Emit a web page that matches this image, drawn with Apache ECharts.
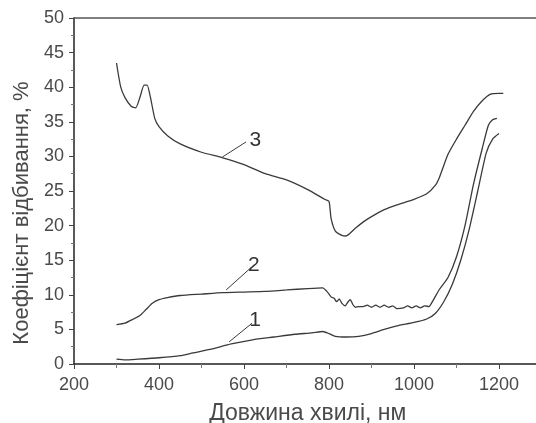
<!DOCTYPE html>
<html>
<head>
<meta charset="utf-8">
<script src="https://cdn.jsdelivr.net/npm/echarts@6/dist/echarts.min.js"></script>
<style>
  html, body { margin: 0; padding: 0; background: #fff; }
  #chart { width: 536px; height: 423px; }
</style>
</head>
<body>
<div id="chart"></div>
<script>
// curve 1
var wl1 = [300, 320, 350, 400, 450, 480, 520, 570, 620, 670, 720, 760, 785, 800, 815, 840, 870, 900, 930, 960, 1000, 1030, 1050, 1070, 1090, 1110, 1130, 1150, 1170, 1185, 1200];
var r1 = [0.7, 0.6, 0.7, 0.9, 1.2, 1.6, 2.1, 2.9, 3.5, 3.9, 4.3, 4.5, 4.7, 4.4, 4.0, 3.9, 4.0, 4.4, 5.0, 5.5, 6.0, 6.5, 7.3, 9.0, 11.5, 15, 19.5, 25, 30.5, 32.5, 33.3];
// curve 2
var wl2 = [300, 320, 340, 355, 370, 385, 400, 420, 450, 500, 550, 600, 650, 700, 750, 785, 795, 805, 812, 818, 824, 830, 838, 845, 850, 856, 862, 870, 880, 890, 900, 910, 920, 930, 940, 950, 960, 975, 985, 995, 1005, 1015, 1025, 1035, 1045, 1060, 1080, 1100, 1120, 1140, 1160, 1175, 1185, 1195];
var r2 = [5.7, 5.9, 6.5, 7.0, 7.9, 8.8, 9.3, 9.6, 9.9, 10.1, 10.3, 10.4, 10.5, 10.7, 10.9, 11.0, 10.5, 9.7, 9.5, 9.0, 9.4, 8.8, 8.4, 9.0, 9.3, 8.6, 8.2, 8.3, 8.3, 8.5, 8.2, 8.5, 8.2, 8.5, 8.2, 8.4, 8.0, 8.1, 8.4, 8.1, 8.4, 8.1, 8.4, 8.3, 9.2, 10.8, 12.5, 15.5, 20, 26, 31, 34.5, 35.3, 35.5];
// curve 3
var wl3 = [300, 310, 320, 335, 345, 355, 365, 372, 380, 390, 400, 420, 450, 500, 550, 600, 650, 700, 750, 790, 800, 805, 815, 830, 840, 860, 880, 900, 930, 960, 1000, 1030, 1050, 1060, 1080, 1100, 1120, 1140, 1160, 1180, 1200, 1210];
var r3 = [43.5, 40, 38.5, 37.2, 37.0, 38.5, 40.3, 40.3, 38.5, 35.5, 34.3, 33, 31.8, 30.6, 29.8, 28.8, 27.5, 26.6, 25.2, 23.8, 23.5, 21, 19.2, 18.6, 18.5, 19.5, 20.5, 21.3, 22.3, 23, 23.8, 24.6, 25.8, 27, 30.3, 32.5, 34.5, 36.5, 38, 39, 39.1, 39.1];

// curve numbers with leader lines: [name, x0, y0, x1, y1]
var callouts = [
    ['1', 565, 3.2, 619, 5.9],
    ['2', 558, 10.7, 616, 13.9],
    ['3', 549, 29.9, 605, 32.1]
];

var xTitle = 'Довжина хвилі, нм';
var yTitle = 'Коефіцієнт відбивання, %';

function zip(xs, ys) {
    var out = [];
    for (var i = 0; i < xs.length; i++) {
        out.push([xs[i], ys[i]]);
    }
    return out;
}

var lineColor = '#3a3a3a';
var textColor = '#4a4a4a';
var font = 'Liberation Sans, Arial, sans-serif';

function makeSeries(data, callout) {
    return {
        type: 'line',
        data: data,
        showSymbol: false,
        smooth: 0.2,
        lineStyle: { color: lineColor, width: 1.3 },
        markLine: {
            silent: true,
            symbol: 'none',
            lineStyle: { color: lineColor, width: 1, type: 'solid' },
            label: {
                show: true,
                position: 'end',
                formatter: callout[0],
                color: '#333',
                fontSize: 21,
                fontFamily: font,
                distance: 4
            },
            data: [[{ coord: [callout[1], callout[2]] }, { coord: [callout[3], callout[4]] }]]
        }
    };
}

var chart = echarts.init(document.getElementById('chart'));
chart.setOption({
    animation: false,
    grid: { left: 74, top: 18, width: 467.5, height: 346, outerBoundsMode: 'none', containLabel: false },
    xAxis: [{
        type: 'value',
        min: 200,
        max: 1300,
        interval: 200,
        name: xTitle,
        nameLocation: 'middle',
        nameGap: 38,
        nameTextStyle: { color: textColor, fontSize: 23, fontFamily: font },
        axisLine: { lineStyle: { color: '#222', width: 1.5 } },
        axisTick: { length: 5, lineStyle: { color: '#444' } },
        minorTick: { show: true, splitNumber: 2, length: 4, lineStyle: { color: '#777' } },
        axisLabel: {
            color: textColor, fontSize: 18, fontFamily: font, margin: 12, showMaxLabel: false,
            formatter: function(v) { return String(v); }
        },
        splitLine: { show: false }
    }, {
        type: 'value',
        position: 'top',
        min: 200,
        max: 1300,
        axisLine: { show: true, lineStyle: { color: '#555', width: 1.5 } },
        axisTick: { show: false },
        axisLabel: { show: false },
        splitLine: { show: false }
    }],
    yAxis: {
        type: 'value',
        min: 0,
        max: 50,
        interval: 5,
        name: yTitle,
        nameLocation: 'middle',
        nameGap: 40,
        nameTextStyle: { color: textColor, fontSize: 22, fontFamily: font, padding: [0, 44, 0, 0] },
        axisLine: { show: true, lineStyle: { color: '#222', width: 1.5 } },
        axisTick: { show: true, length: 5, lineStyle: { color: '#444' } },
        minorTick: { show: true, splitNumber: 2, length: 3, lineStyle: { color: '#777' } },
        axisLabel: { color: textColor, fontSize: 18, fontFamily: font, margin: 10 },
        splitLine: { show: false }
    },
    series: [
        makeSeries(zip(wl1, r1), callouts[0]),
        makeSeries(zip(wl2, r2), callouts[1]),
        makeSeries(zip(wl3, r3), callouts[2])
    ]
});
</script>
</body>
</html>
